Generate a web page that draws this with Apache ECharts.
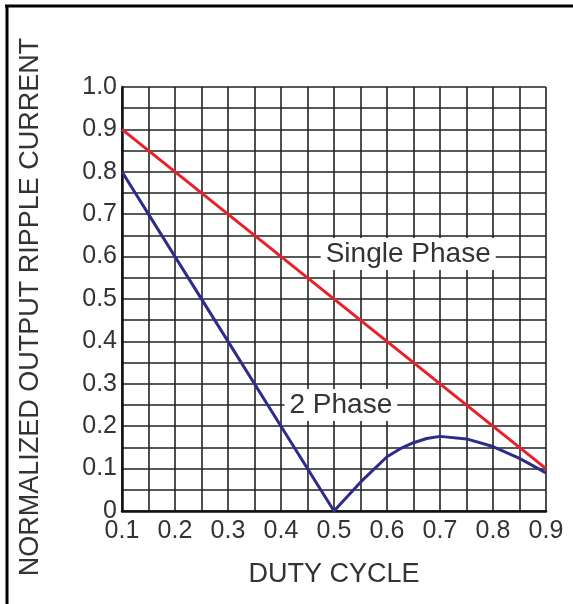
<!DOCTYPE html>
<html>
<head>
<meta charset="utf-8">
<script src="https://cdn.jsdelivr.net/npm/echarts@6/dist/echarts.min.js"></script>
<style>
html,body{margin:0;padding:0;background:#fff;}
#chart{width:573px;height:604px;}
</style>
</head>
<body>
<div id="chart"></div>
<script>
// Data
const singleX = [0.1, 0.9];
const singleY = [0.9, 0.1];
const twoX = [0.1, 0.2, 0.3, 0.4, 0.5, 0.55, 0.6, 0.625, 0.65, 0.675, 0.7, 0.75, 0.8, 0.85, 0.9];
const twoY = [0.8, 0.6, 0.4, 0.2, 0.0, 0.068, 0.128, 0.147, 0.161, 0.171, 0.176, 0.17, 0.152, 0.124, 0.09];
const singleLabel = {text: 'Single Phase', x: 0.64, y: 0.606};
const twoLabel = {text: '2 Phase', x: 0.513, y: 0.25};
const xTitle = 'DUTY CYCLE';
const yTitle = 'NORMALIZED OUTPUT RIPPLE CURRENT';

const FONT = '"Liberation Sans", Arial, sans-serif';
const TXT = '#333';
const GRIDC = '#222';

const chart = echarts.init(document.getElementById('chart'));

function pairs(xs, ys){ return xs.map((x,i)=>[x, ys[i]]); }
function annot(l){
  return {
    symbol: 'rect', symbolSize: 0,
    data: [{coord: [l.x, l.y], value: l.text}],
    label: {show: true, position: 'inside', formatter: l.text,
      color: TXT, fontFamily: FONT, fontSize: 28,
      backgroundColor: '#fff', padding: [3, 5, 1, 5]},
    animation: false
  };
}

chart.setOption({
  animation: false,
  backgroundColor: '#fff',
  grid: {left: 122, top: 87, width: 424, height: 424, containLabel: false},
  xAxis: {
    type: 'value', min: 0.1, max: 0.9, interval: 0.1,
    name: xTitle, nameLocation: 'middle', nameGap: 50,
    nameTextStyle: {color: TXT, fontFamily: FONT, fontSize: 27},
    axisLine: {show: true, onZero: false, lineStyle: {color: '#111', width: 2.5}},
    axisTick: {show: false},
    axisLabel: {color: TXT, fontFamily: FONT, fontSize: 25, margin: 8,
      showMinLabel: true, showMaxLabel: true,
      formatter: v => v.toFixed(1)},
    splitLine: {show: true, lineStyle: {color: GRIDC, width: 1.6}},
    minorTick: {show: false, splitNumber: 2},
    minorSplitLine: {show: true, lineStyle: {color: GRIDC, width: 1.6}}
  },
  yAxis: {
    type: 'value', min: 0, max: 1, interval: 0.1,
    name: yTitle, nameLocation: 'middle', nameGap: 78, nameRotate: 90,
    nameTextStyle: {color: TXT, fontFamily: FONT, fontSize: 27, padding: [0, 16, 0, 0]},
    axisLine: {show: true, onZero: false, lineStyle: {color: '#111', width: 2.5}},
    axisTick: {show: false},
    axisLabel: {color: TXT, fontFamily: FONT, fontSize: 25, margin: 5,
      formatter: v => v === 0 ? '0' : v.toFixed(1)},
    splitLine: {show: true, lineStyle: {color: GRIDC, width: 1.6}},
    minorTick: {show: false, splitNumber: 2},
    minorSplitLine: {show: true, lineStyle: {color: GRIDC, width: 1.6}}
  },
  graphic: [
    {type: 'line', shape: {x1: 5, y1: 6, x2: 573, y2: 6}, style: {stroke: '#000', lineWidth: 3}},
    {type: 'line', shape: {x1: 7, y1: 5, x2: 7, y2: 604}, style: {stroke: '#000', lineWidth: 3}}
  ],
  series: [
    {
      type: 'line', name: 'Single Phase', data: pairs(singleX, singleY),
      showSymbol: false, lineStyle: {color: '#e8202a', width: 3}, itemStyle: {color: '#e8202a'},
      z: 3, markPoint: annot(singleLabel)
    },
    {
      type: 'line', name: '2 Phase', data: pairs(twoX, twoY),
      showSymbol: false, lineStyle: {color: '#2e2c8a', width: 3, join: 'round'}, itemStyle: {color: '#2e2c8a'},
      z: 4, markPoint: annot(twoLabel)
    }
  ]
});
</script>
</body>
</html>
